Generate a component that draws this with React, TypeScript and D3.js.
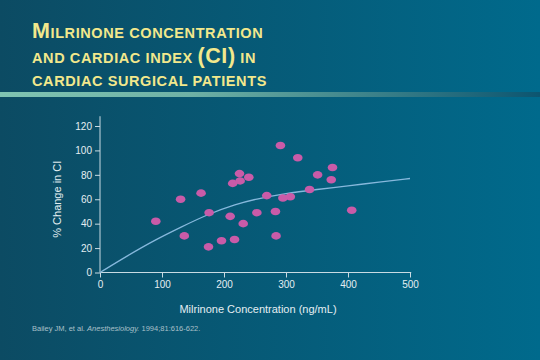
import React, { useRef, useEffect } from "react";
import * as d3 from "d3";

// scatter points: concentration (ng/mL), % change in CI
const concentration = [90, 130, 136, 163, 176, 175, 196, 210, 214, 217, 225, 226, 240, 231, 253, 269, 283, 284, 291, 295, 307, 319, 338, 351, 375, 373, 406];
const ciChange = [42, 60, 30, 65, 49, 21, 26, 46, 73, 27, 81, 75, 78, 40, 49, 63, 50, 30, 104, 61, 62, 94, 68, 80, 86, 76, 51];

// fitted curve
const curveX = [0, 45, 90, 130, 175, 220, 250, 300, 350, 400, 450, 500];
const curveY = [0, 14, 27, 37, 48, 56, 60, 65, 68, 71, 74, 77];

const xTicks = [0, 100, 200, 300, 400, 500];
const yTicks = [0, 20, 40, 60, 80, 100, 120];

const App = () => {
    const svgRef = useRef<SVGSVGElement>(null);

    useEffect(() => {
        if (!svgRef.current) return;
        const width = 540;
        const height = 360;

        d3.select(svgRef.current).selectAll("*").remove();
        const svg = d3.select(svgRef.current).attr("width", width).attr("height", height);

        // background
        const defs = svg.append("defs");
        const bg = defs.append("linearGradient").attr("id", "bg").attr("x1", "0").attr("x2", "1").attr("y1", "0").attr("y2", "0");
        bg.append("stop").attr("offset", "0%").attr("stop-color", "#0c4b63");
        bg.append("stop").attr("offset", "100%").attr("stop-color", "#006a8c");
        const rule = defs.append("linearGradient").attr("id", "rule").attr("x1", "0").attr("x2", "1").attr("y1", "0").attr("y2", "0");
        rule.append("stop").attr("offset", "0%").attr("stop-color", "#80c4b2");
        rule.append("stop").attr("offset", "35%").attr("stop-color", "#6fb2a6");
        rule.append("stop").attr("offset", "100%").attr("stop-color", "#0c5570");

        svg.append("rect").attr("width", width).attr("height", height).attr("fill", "url(#bg)");
        svg.append("rect").attr("x", 0).attr("y", 92).attr("width", width).attr("height", 5).attr("fill", "url(#rule)");

        // title
        const titleColor = "#f2e88c";
        const font = "Arial, 'Liberation Sans', sans-serif";
        const small = "14.5px";
        const big = "21.5px";
        const title = (yy: number) =>
            svg.append("text").attr("x", 32).attr("y", yy)
                .style("font-family", font).style("fill", titleColor)
                .style("font-weight", "bold").style("letter-spacing", "0.6px");
        const t1 = title(38);
        t1.append("tspan").style("font-size", big).text("M");
        t1.append("tspan").style("font-size", small).text("ILRINONE CONCENTRATION");
        const t2 = title(63);
        t2.append("tspan").style("font-size", small).text("AND CARDIAC INDEX ");
        t2.append("tspan").style("font-size", big).text("(CI)");
        t2.append("tspan").style("font-size", small).text(" IN");
        title(86).style("font-size", small).text("CARDIAC SURGICAL PATIENTS");

        // chart
        const x = d3.scaleLinear().domain([0, 500]).range([100, 410]);
        const y = d3.scaleLinear().domain([0, 120]).range([272.5, 126]);
        const axisColor = "#c9dbe3";
        const labelColor = "#e4eef2";

        const yAxis = svg.append("g").attr("transform", `translate(${x(0)},0)`)
            .call(d3.axisLeft(y).tickValues(yTicks).tickSize(5).tickPadding(3));
        yAxis.select(".domain").remove();
        const xAxis = svg.append("g").attr("transform", `translate(0,${y(0)})`)
            .call(d3.axisBottom(x).tickValues(xTicks).tickSize(5).tickPadding(3));
        xAxis.select(".domain").remove();
        [yAxis, xAxis].forEach((g) => {
            g.selectAll("line").attr("stroke", axisColor);
            g.selectAll("text").style("fill", labelColor).style("font-size", "10px").style("font-family", font);
        });

        svg.append("line").attr("x1", x(0)).attr("x2", x(0)).attr("y1", y(0)).attr("y2", y(128)).attr("stroke", axisColor);
        svg.append("line").attr("x1", x(0)).attr("x2", x(502)).attr("y1", y(0)).attr("y2", y(0)).attr("stroke", axisColor);

        svg.append("text")
            .attr("transform", `translate(61,${y(60)}) rotate(-90)`)
            .attr("text-anchor", "middle")
            .style("font-family", font).style("font-size", "11px").style("fill", labelColor)
            .text("% Change in CI");

        svg.append("text").attr("x", 258).attr("y", 313).attr("text-anchor", "middle")
            .style("font-family", font).style("font-size", "11px").style("fill", labelColor)
            .text("Milrinone Concentration (ng/mL)");

        // fitted line
        const pts: [number, number][] = curveX.map((v, i) => [v, curveY[i]]);
        svg.append("path")
            .datum(pts)
            .attr("fill", "none")
            .attr("stroke", "#86b8dc")
            .attr("stroke-width", 1.3)
            .attr("d", d3.line<[number, number]>().x((d) => x(d[0])).y((d) => y(d[1])).curve(d3.curveBasis));

        // patients
        svg.selectAll(".dot")
            .data(concentration)
            .enter()
            .append("ellipse")
            .attr("class", "dot")
            .attr("cx", (d) => x(d))
            .attr("cy", (_, i) => y(ciChange[i]))
            .attr("rx", 4.8)
            .attr("ry", 3.8)
            .attr("fill", "#c95ba8");

        // citation
        const cite = svg.append("text").attr("x", 32).attr("y", 331)
            .style("font-family", font).style("font-size", "7.5px").style("fill", "#aac0c9");
        cite.append("tspan").text("Bailey JM, et al. ");
        cite.append("tspan").style("font-style", "italic").text("Anesthesiology.");
        cite.append("tspan").text(" 1994;81:616-622.");
    }, []);

    return <svg ref={svgRef} style={{ position: "absolute", left: 0, top: 0 }} />;
};

export default App;
